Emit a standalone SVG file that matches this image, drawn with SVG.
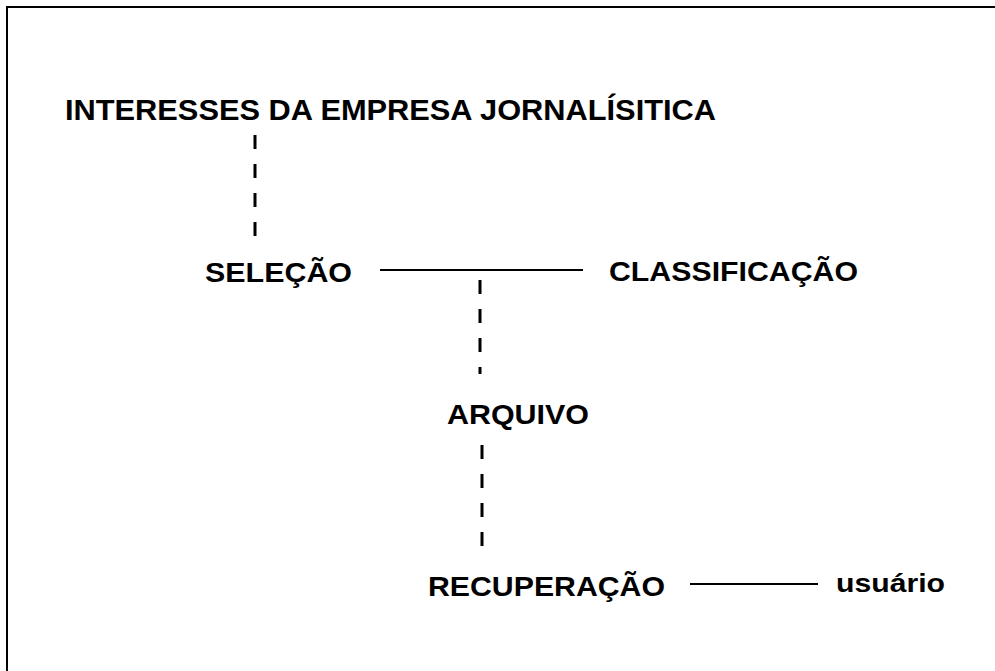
<svg xmlns="http://www.w3.org/2000/svg" width="995" height="671" viewBox="0 0 995 671">
<style>
.t{font-family:"Liberation Sans",Arial,sans-serif;font-weight:bold;fill:#000}
.dash{stroke:#000;stroke-width:3;stroke-dasharray:14 15;fill:none}
.solid{stroke:#000;stroke-width:2;fill:none}
</style>
<rect x="0" y="0" width="995" height="671" fill="#fff"/>
<rect x="7" y="7" width="1000" height="700" fill="none" stroke="#000" stroke-width="2"/>
<g id="connectors">
<line class="dash" x1="255" y1="135" x2="255" y2="242"/>
<line class="solid" x1="380" y1="270" x2="583" y2="270"/>
<line class="dash" x1="480" y1="280" x2="480" y2="374"/>
<line class="dash" x1="482" y1="445" x2="482" y2="552"/>
<line class="solid" x1="690" y1="584" x2="818" y2="584"/>
</g>
<g id="interesses"><text class="t" x="65" y="120" font-size="29" textLength="651" lengthAdjust="spacingAndGlyphs">INTERESSES DA EMPRESA JORNALÍSITICA</text></g>
<g id="selecao"><text class="t" x="205" y="282" font-size="28" textLength="147" lengthAdjust="spacingAndGlyphs">SELEÇÃO</text></g>
<g id="classificacao"><text class="t" x="609" y="281" font-size="28" textLength="249" lengthAdjust="spacingAndGlyphs">CLASSIFICAÇÃO</text></g>
<g id="arquivo"><text class="t" x="447" y="424" font-size="28" textLength="142" lengthAdjust="spacingAndGlyphs">ARQUIVO</text></g>
<g id="recuperacao"><text class="t" x="428" y="596" font-size="28" textLength="237" lengthAdjust="spacingAndGlyphs">RECUPERAÇÃO</text></g>
<g id="usuario"><text class="t" x="836" y="592" font-size="25" textLength="109" lengthAdjust="spacingAndGlyphs">usuário</text></g>
</svg>
